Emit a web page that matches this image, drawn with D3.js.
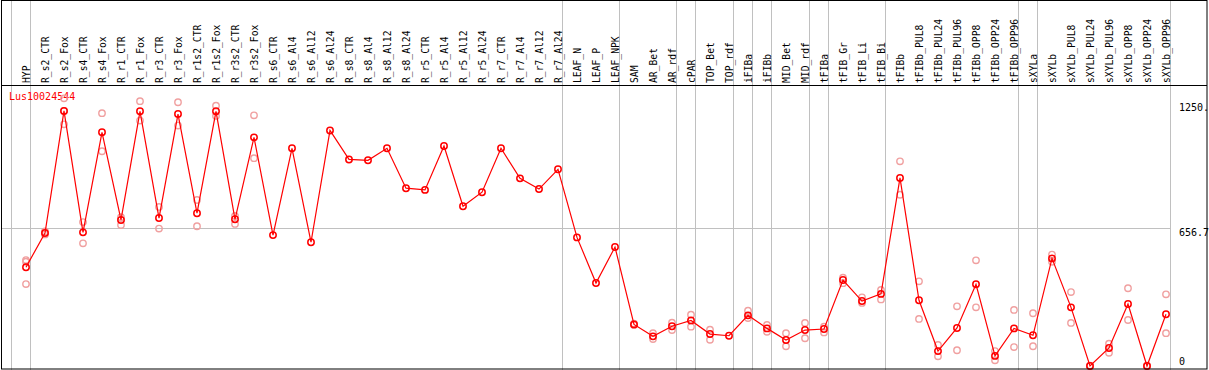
<!DOCTYPE html>
<html>
<head>
<meta charset="utf-8">
<script src="https://cdn.jsdelivr.net/npm/d3@7"></script>
<style>
  body { margin: 0; background: #ffffff; }
  svg { display: block; }
</style>
</head>
<body>
<div id="chart"></div>
<script>
// Expression profile of one gene across samples, means + replicates

const samples = ["HYP", "R_s2_CTR", "R_s2_Fox", "R_s4_CTR", "R_s4_Fox", "R_r1_CTR", "R_r1_Fox",
    "R_r3_CTR", "R_r3_Fox", "R_r1s2_CTR", "R_r1s2_Fox", "R_r3s2_CTR", "R_r3s2_Fox",
    "R_s6_CTR", "R_s6_Al4", "R_s6_Al12", "R_s6_Al24", "R_s8_CTR", "R_s8_Al4", "R_s8_Al12", "R_s8_Al24",
    "R_r5_CTR", "R_r5_Al4", "R_r5_Al12", "R_r5_Al24", "R_r7_CTR", "R_r7_Al4", "R_r7_Al12", "R_r7_Al24",
    "LEAF_N", "LEAF_P", "LEAF_NPK", "SAM", "AR_Bet", "AR_rdf", "cPAR", "TOP_Bet", "TOP_rdf",
    "iFIBa", "iFIBb", "MID_Bet", "MID_rdf", "tFIBa", "tFIB_Gr", "tFIB_Li", "tFIB_Bi", "tFIBb",
    "tFIBb_PUL8", "tFIBb_PUL24", "tFIBb_PUL96", "tFIBb_OPP8", "tFIBb_OPP24", "tFIBb_OPP96",
    "sXYLa", "sXYLb", "sXYLb_PUL8", "sXYLb_PUL24", "sXYLb_PUL96", "sXYLb_OPP8", "sXYLb_OPP24", "sXYLb_OPP96"];

// mean expression per sample
const means = [470, 633, 1214, 636, 1112, 695, 1212, 704, 1199, 727, 1212, 698, 1088,
    623, 1036, 589, 1121, 983, 979, 1036, 846, 838, 1047, 760, 827, 1036, 893, 842, 936,
    612, 395, 566, 198, 141, 189, 217, 152, 144, 241, 179, 124, 171, 176, 409, 309, 343, 895,
    313, 71, 181, 389, 48, 179, 146, 512, 279, 0, 86, 295, 0, 246];

// individual replicates (empty where none are shown)
const replicates = [
    [504, 496, 390], [640, 626], [1274, 1150, 1214], [685, 584], [1203, 1022], [708, 671], [1260, 1168],
    [757, 654], [1255, 1144], [790, 665], [1239, 1190], [714, 676], [1193, 989],
    [], [], [], [], [], [], [], [], [], [], [], [], [], [], [], [],
    [], [], [], [202, 195], [156, 128], [206, 171], [244, 187], [173, 125], [],
    [263, 228], [195, 163], [156, 94], [205, 132], [187, 160], [420, 394], [327, 300], [362, 317], [974, 815],
    [403, 224], [100, 46], [284, 75], [503, 279], [71, 27], [267, 90],
    [251, 94], [530, 496], [352, 205], [2, 0], [106, 63], [370, 219], [2, 0], [341, 156]];

// first sample of each group gets a separator line
const groupStarts = ["HYP", "R_s2_CTR", "LEAF_N", "SAM", "cPAR", "TOP_Bet", "iFIBa", "iFIBb",
    "MID_Bet", "tFIBa", "tFIB_Gr", "tFIBb", "sXYLa", "sXYLb"];

const yTicks = [0, 656.7, 1250];
const yTickLabels = ["0", "656.7", "1250."];
const geneName = "Lus10024544";

var width = 1209;
var height = 370;
var headerBottom = 85;
var lineColor = "#ff0000";
var repColor = "#f0a0a0";
var gridColor = "#c0c0c0";
var fontFamily = "'DejaVu Sans Mono', monospace";

var svg = d3.select("#chart").append("svg")
    .attr("width", width)
    .attr("height", height);

svg.append("rect")
    .attr("width", width)
    .attr("height", height)
    .attr("fill", "#ffffff");

const xBand = d3.scaleBand()
    .domain(samples)
    .range([11, 11 + samples.length * 19])
    .padding(0);
const xPos = d => xBand(d) + 15;

const yScale = d3.scaleLinear()
    .domain([0, 1313.4])
    .range([366, 90]);

const plotRight = xBand.range()[1];

// group separators (through header too)
var seps = groupStarts.map(s => xBand(s)).concat([plotRight]);
svg.append("g")
    .selectAll("line")
    .data(seps)
    .enter()
    .append("line")
    .attr("x1", d => d + 0.5)
    .attr("x2", d => d + 0.5)
    .attr("y1", 0)
    .attr("y2", height)
    .attr("stroke", gridColor)
    .attr("stroke-width", 1);

// middle horizontal grid line
svg.append("line")
    .attr("x1", 1)
    .attr("x2", plotRight)
    .attr("y1", Math.round(yScale(yTicks[1])) + 0.5)
    .attr("y2", Math.round(yScale(yTicks[1])) + 0.5)
    .attr("stroke", gridColor)
    .attr("stroke-width", 1);

// header labels
svg.append("g")
    .selectAll("text")
    .data(samples)
    .enter()
    .append("text")
    .attr("transform", d => `translate(${xPos(d) + 4},${headerBottom - 2}) rotate(-90)`)
    .attr("font-family", fontFamily)
    .attr("font-size", "9.7px")
    .attr("fill", "#000000")
    .text(d => d);

// y labels on the right
svg.append("g")
    .selectAll("text")
    .data(yTicks)
    .enter()
    .append("text")
    .attr("x", 1179)
    .attr("y", (d, i) => i === 0 ? yScale(d) - 1 : yScale(d) + 8)
    .attr("font-family", fontFamily)
    .attr("font-size", "10px")
    .attr("fill", "#000000")
    .text((d, i) => yTickLabels[i]);

// legend
svg.append("text")
    .attr("x", 9)
    .attr("y", 100)
    .attr("font-family", fontFamily)
    .attr("font-size", "10px")
    .attr("fill", lineColor)
    .text(geneName);

// replicate points
var repData = [];
replicates.forEach((reps, i) => reps.forEach(v => repData.push({ s: samples[i], v: v })));
svg.append("g")
    .selectAll("circle")
    .data(repData)
    .enter()
    .append("circle")
    .attr("cx", d => xPos(d.s))
    .attr("cy", d => yScale(d.v))
    .attr("r", 3.2)
    .attr("fill", "none")
    .attr("stroke", repColor)
    .attr("stroke-width", 1.4);

// mean line
const line = d3.line()
    .x((d, i) => xPos(samples[i]))
    .y(d => yScale(d));
svg.append("path")
    .datum(means)
    .attr("d", line)
    .attr("fill", "none")
    .attr("stroke", lineColor)
    .attr("stroke-width", 1.2);

svg.append("g")
    .selectAll("circle")
    .data(means)
    .enter()
    .append("circle")
    .attr("cx", (d, i) => xPos(samples[i]))
    .attr("cy", d => yScale(d))
    .attr("r", 3.2)
    .attr("fill", "none")
    .attr("stroke", lineColor)
    .attr("stroke-width", 1.5);

// frame and header separator
svg.append("rect")
    .attr("x", 1.5)
    .attr("y", 0.5)
    .attr("width", 1205.5)
    .attr("height", 368.5)
    .attr("fill", "none")
    .attr("stroke", "#000000")
    .attr("stroke-width", 1);
svg.append("line")
    .attr("x1", 1)
    .attr("x2", 1207)
    .attr("y1", headerBottom + 0.5)
    .attr("y2", headerBottom + 0.5)
    .attr("stroke", "#000000")
    .attr("stroke-width", 1);
</script>
</body>
</html>
